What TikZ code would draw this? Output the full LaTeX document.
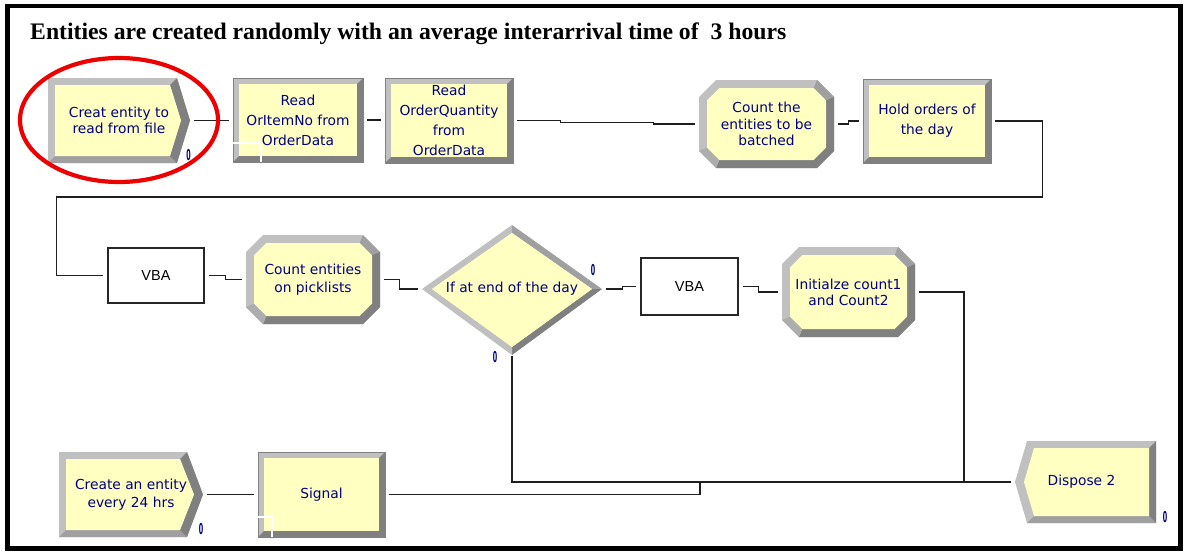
\documentclass[tikz,border=0pt]{standalone}
\usepackage{fontspec}
\usepackage{graphicx}
\setmainfont{Liberation Serif}
\newfontfamily\modfont{DejaVu Sans}
\newfontfamily\vbafont{Liberation Sans}
\usetikzlibrary{calc}

\definecolor{modyellow}{RGB}{255,255,194}
\definecolor{bevlight}{RGB}{192,192,192}
\definecolor{bevmid}{RGB}{160,160,160}
\definecolor{bevdark}{RGB}{128,128,128}
\definecolor{navy}{RGB}{0,0,128}
\definecolor{ringred}{RGB}{236,0,0}

% Rectangular process module: x1 y1 x2 y2
\newcommand\bevrect[4]{%
  \fill[bevlight] (#1,#2) rectangle (#3,#4);
  \fill[bevdark] (#3,#2) -- (#3,#4) -- (#1,#4) -- ({#1+6},{#4-6}) -- ({#3-6},{#4-6}) -- ({#3-6},{#2+6}) -- cycle;
  \fill[modyellow] ({#1+6},{#2+6}) rectangle ({#3-6},{#4-6});
  \draw[bevdark, line width=0.6] (#1,#2) rectangle (#3,#4);
}

% Octagonal assign/record module: x1 y1 x2 y2 chamfer
\newcommand\bevoct[5]{%
  \fill[bevlight] ({#1+#5},#2) -- ({#3-#5},#2) -- (#3,{#2+#5}) -- (#3,{#4-#5}) -- ({#3-#5},#4) -- ({#1+#5},#4) -- (#1,{#4-#5}) -- (#1,{#2+#5}) -- cycle;
  \fill[bevmid] ({#3-#5},#2) -- (#3,{#2+#5}) -- ({#3-8},{#2+#5+3.3}) -- ({#3-#5-3.3},{#2+8}) -- cycle;
  \fill[bevdark] (#3,{#2+#5}) -- (#3,{#4-#5}) -- ({#3-#5},#4) -- ({#1+#5},#4) -- ({#1+#5+3.3},{#4-8}) -- ({#3-#5-3.3},{#4-8}) -- ({#3-8},{#4-#5-3.3}) -- ({#3-8},{#2+#5+3.3}) -- cycle;
  \fill[bevmid!60!bevlight] ({#1+#5},#4) -- (#1,{#4-#5}) -- ({#1+8},{#4-#5-3.3}) -- ({#1+#5+3.3},{#4-8}) -- cycle;
  \fill[modyellow] ({#1+#5+3.3},{#2+8}) -- ({#3-#5-3.3},{#2+8}) -- ({#3-8},{#2+#5+3.3}) -- ({#3-8},{#4-#5-3.3}) -- ({#3-#5-3.3},{#4-8}) -- ({#1+#5+3.3},{#4-8}) -- ({#1+8},{#4-#5-3.3}) -- ({#1+8},{#2+#5+3.3}) -- cycle;
}

% Create module, pointing right: x1 y1 x2 y2 slant
\newcommand\bevcreate[5]{%
  \fill[bevlight] (#1,#2) -- ({#3-#5},#2) -- (#3,{(#2+#4)/2}) -- ({#3-#5},#4) -- (#1,#4) -- cycle;
  \fill[bevmid] (#1,#4) -- ({#3-#5},#4) -- ({#3-#5-7},{#4-7}) -- ({#1+7},{#4-7}) -- cycle;
  \fill[bevdark] ({#3-#5},#2) -- (#3,{(#2+#4)/2}) -- ({#3-#5},#4) -- ({#3-#5-7},{#4-7}) -- ({#3-9},{(#2+#4)/2}) -- ({#3-#5-7},{#2+7}) -- cycle;
  \fill[modyellow] ({#1+7},{#2+7}) -- ({#3-#5-7},{#2+7}) -- ({#3-9},{(#2+#4)/2}) -- ({#3-#5-7},{#4-7}) -- ({#1+7},{#4-7}) -- cycle;
}

% Dispose module, pointing left: x1 y1 x2 y2 slant
\newcommand\bevdispose[5]{%
  \fill[bevlight] (#1,{(#2+#4)/2}) -- ({#1+#5},#2) -- (#3,#2) -- (#3,#4) -- ({#1+#5},#4) -- cycle;
  \fill[bevmid] ({#1+#5},#4) -- (#3,#4) -- ({#3-7},{#4-7}) -- ({#1+#5+7},{#4-7}) -- cycle;
  \fill[bevdark] (#3,#2) -- (#3,#4) -- ({#3-7},{#4-7}) -- ({#3-7},{#2+7}) -- cycle;
  \fill[modyellow] ({#1+9},{(#2+#4)/2}) -- ({#1+#5+7},{#2+7}) -- ({#3-7},{#2+7}) -- ({#3-7},{#4-7}) -- ({#1+#5+7},{#4-7}) -- cycle;
}

\tikzset{
  modtext/.style={font=\modfont\fontsize{13.8}{#1}\selectfont, text=navy, align=center, inner sep=0pt},
  modtext/.default=18,
  vbabox/.style={draw=black!85, line width=1.3, fill=white, font=\vbafont\fontsize{14.5}{17}\selectfont, inner sep=0pt},
  counter/.style={font=\modfont\bfseries\fontsize{15}{15}\selectfont, text=navy, inner sep=0pt},
  wire/.style={draw=black!88, line width=1.4, shorten <=4, shorten >=4},
  artefact/.style={draw=white, line width=1.1}
}

\begin{document}
\begin{tikzpicture}[x=1pt, y=-1pt]
  \useasboundingbox (0,0) rectangle (1184,552);
  \fill[white] (0,0) rectangle (1184,552);

  % outer frame and heading
  \draw[line width=4.5] (7.5,6) rectangle (1180.5,548.5);
  \node[anchor=base west, inner sep=0pt, font=\bfseries\fontsize{23.7}{24}\selectfont] (title) at (30,39)
    {Entities are created randomly with an average interarrival time of\ \ 3 hours};

  % ---- module graphics ----
  \bevcreate{48}{78}{190}{163}{13}
  \bevrect{233}{78}{363}{162}
  \draw[artefact] (233,143) -- (261,143) -- (261,162);
  \bevrect{385}{78}{513}{163}
  \bevoct{699}{80}{834}{168}{17}
  \bevrect{863}{79}{991}{163}

  % decide diamond
  \fill[bevlight] (422,289) -- (512,225) -- (512,233) -- (432,289) -- cycle;
  \fill[bevmid] (512,225) -- (602,289) -- (592,289) -- (512,233) -- cycle;
  \fill[bevdark] (602,289) -- (512,355) -- (512,347) -- (592,289) -- cycle;
  \fill[bevlight] (512,355) -- (422,289) -- (432,289) -- (512,347) -- cycle;
  \fill[modyellow] (432,289) -- (512,233) -- (592,289) -- (512,347) -- cycle;

  \bevoct{246}{235}{380}{324}{17}
  \bevoct{782}{247}{915}{337}{17}
  \bevcreate{59}{452}{203}{537}{16}
  \bevrect{258}{452}{385}{537}
  \draw[artefact] (258,517) -- (272,517) -- (272,537);
  \bevdispose{1015}{441}{1156}{523}{12}

  % ---- named module nodes with their labels ----
  \node[modtext=16.5, minimum width=142, minimum height=85] (create1) at (119,120.5) {Creat entity to\\read from file};
  \node[modtext=20, minimum width=130, minimum height=84] (read1) at (298,120) {Read\\OrItemNo from\\OrderData};
  \node[modtext=20, minimum width=128, minimum height=85] (read2) at (449,120.5) {Read\\OrderQuantity\\from\\OrderData};
  \node[modtext=16.5, minimum width=135, minimum height=88] (count1) at (766.5,124) {Count the\\entities to be\\batched};
  \node[modtext=20, minimum width=128, minimum height=84] (hold) at (927,121) {Hold orders of\\the day};

  \node[vbabox, minimum width=96, minimum height=55] (vba1) at (156,275.5) {VBA};
  \node[modtext=18, minimum width=134, minimum height=89] (count2) at (313,279.5) {Count entities\\on picklists};
  \node[modtext, minimum width=180, minimum height=130] (decide) at (512,289) {If at end of the day};
  \node[vbabox, minimum width=97, minimum height=57] (vba2) at (689.5,286.5) {VBA};
  \node[modtext=16, minimum width=133, minimum height=90] (init) at (848.5,292) {Initialze count1\\and Count2};

  \node[modtext=18, minimum width=144, minimum height=85] (create2) at (131,494.5) {Create an entity\\every 24 hrs};
  \node[modtext, minimum width=127, minimum height=85] (signal) at (321.5,494.5) {Signal};
  \node[modtext, minimum width=141, minimum height=82] (dispose) at (1085.5,482) {\hspace*{-8pt}Dispose 2};

  % entity counters
  \node[counter] (cnt1) at (188.5,155) {\scalebox{0.42}[1]{0}};
  \node[counter] (cnt2) at (593,270) {\scalebox{0.42}[1]{0}};
  \node[counter] (cnt3) at (495,357) {\scalebox{0.42}[1]{0}};
  \node[counter] (cnt4) at (201,529) {\scalebox{0.42}[1]{0}};
  \node[counter] (cnt5) at (1165,517) {\scalebox{0.42}[1]{0}};

  \coordinate (join) at (700,482);

  % ---- connections ----
  \draw[wire] (create1.east) -- (create1.east -| read1.west);
  \draw[wire] (read1.east) -- (read1.east -| read2.west);
  \draw[wire] (read2.east) -- ++(47,0) -- ++(0,1.75) -- ++(93,0) |- (count1.west);
  \draw[wire] (count1.east) -- ++(14,0) |- (hold.west);
  \draw[wire] (hold.east) -- ++(51,0) -- ++(0,76) -| ($(vba1.west)+(-51,0)$) -- (vba1.west);
  \draw[wire] (vba1.east) -- ++(21,0) |- (count2.west);
  \draw[wire] (count2.east) -- ++(19,0) |- (decide.west);
  \draw[wire] (decide.east) -- ++(20,0) |- (vba2.west);
  \draw[wire] (vba2.east) -- ++(20,0) |- (init.west);
  \draw[wire] (init.east) -| ($(dispose.west)+(-51,0)$) -- (dispose.west);
  \draw[wire, shorten <=2] (decide.south) |- (dispose.west);
  \draw[wire] (create2.east) -- (signal.west);
  \draw[wire, shorten >=0] (signal.east) -| (join);

  % highlight ring
  \draw[ringred, line width=4.2] (119,120) ellipse [x radius=99, y radius=62];
\end{tikzpicture}
\end{document}
